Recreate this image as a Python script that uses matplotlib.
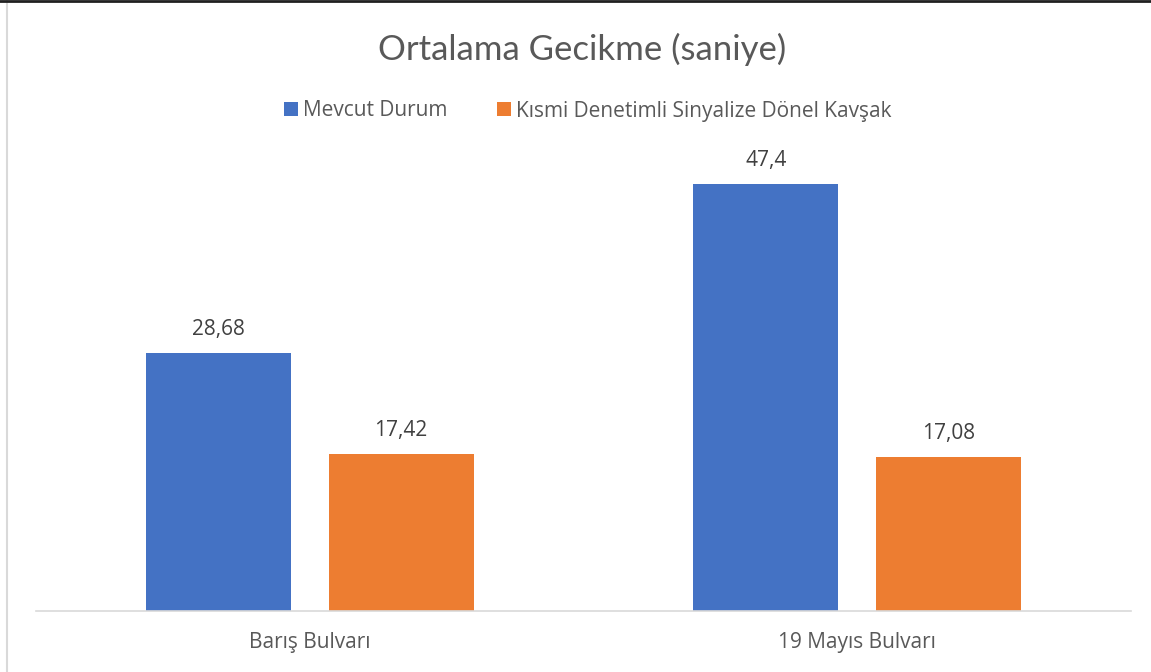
import matplotlib
matplotlib.use("Agg")
import matplotlib.pyplot as plt
from matplotlib.patches import Patch
from matplotlib.lines import Line2D
import numpy as np

categories = ["Barış Bulvarı", "19 Mayıs Bulvarı"]
series_names = ["Mevcut Durum", "Kısmi Denetimli Sinyalize Dönel Kavşak"]
mevcut = [28.68, 47.4]
kismi = [17.42, 17.08]
colors = ["#4472C4", "#ED7D31"]
text_color = "#595959"

plt.rcParams["font.family"] = ["Open Sans", "DejaVu Sans"]

W, H = 1151, 672
fig = plt.figure(figsize=(W / 100, H / 100), dpi=100)
ax = fig.add_axes([36 / W, (H - 611) / H, (1131 - 36) / W, 450 / H])

x = np.arange(len(categories))
width = 0.265
offset = 0.167
for vals, off, col in ((mevcut, -offset, colors[0]), (kismi, offset, colors[1])):
    bars = ax.bar(x + off, vals, width, color=col, zorder=2)
    for b, v in zip(bars, vals):
        ax.annotate(f"{v:g}".replace(".", ","),
                    (b.get_x() + b.get_width() / 2, b.get_height()),
                    xytext=(0, 9.5), textcoords="offset points",
                    ha="center", va="bottom", fontsize=15, color="#404040")

ax.set_xlim(-0.5, 1.5)
ax.set_ylim(0, 50)
ax.set_yticks([])
ax.set_xticks(x)
ax.set_xticklabels(categories, fontsize=15, color=text_color)
ax.tick_params(axis="x", length=0, pad=15)
for s in ("top", "right", "left"):
    ax.spines[s].set_visible(False)
ax.spines["bottom"].set_color("#D9D9D9")
ax.spines["bottom"].set_linewidth(1.2)

fig.text(582 / W, 1 - 49 / H, "Ortalama Gecikme (saniye)", ha="center", va="center",
         fontsize=25, color=text_color, family=["Lato", "DejaVu Sans"])

handles = [Patch(facecolor=c, edgecolor="none") for c in colors]
fig.legend(handles, series_names, loc="center", bbox_to_anchor=(588 / W, 1 - 111 / H),
           ncol=2, frameon=False, fontsize=15, labelcolor=text_color,
           handlelength=0.65, handleheight=0.65, handletextpad=0.25, columnspacing=2.4)

# chart frame edges
fig.add_artist(Line2D([7 / W, 7 / W], [0, 1], transform=fig.transFigure, color="#D9D9D9", lw=1.5))
fig.add_artist(Line2D([0, 1], [1 - 1 / H, 1 - 1 / H], transform=fig.transFigure, color="#202020", lw=2))

fig.savefig("out.png", dpi=100)
